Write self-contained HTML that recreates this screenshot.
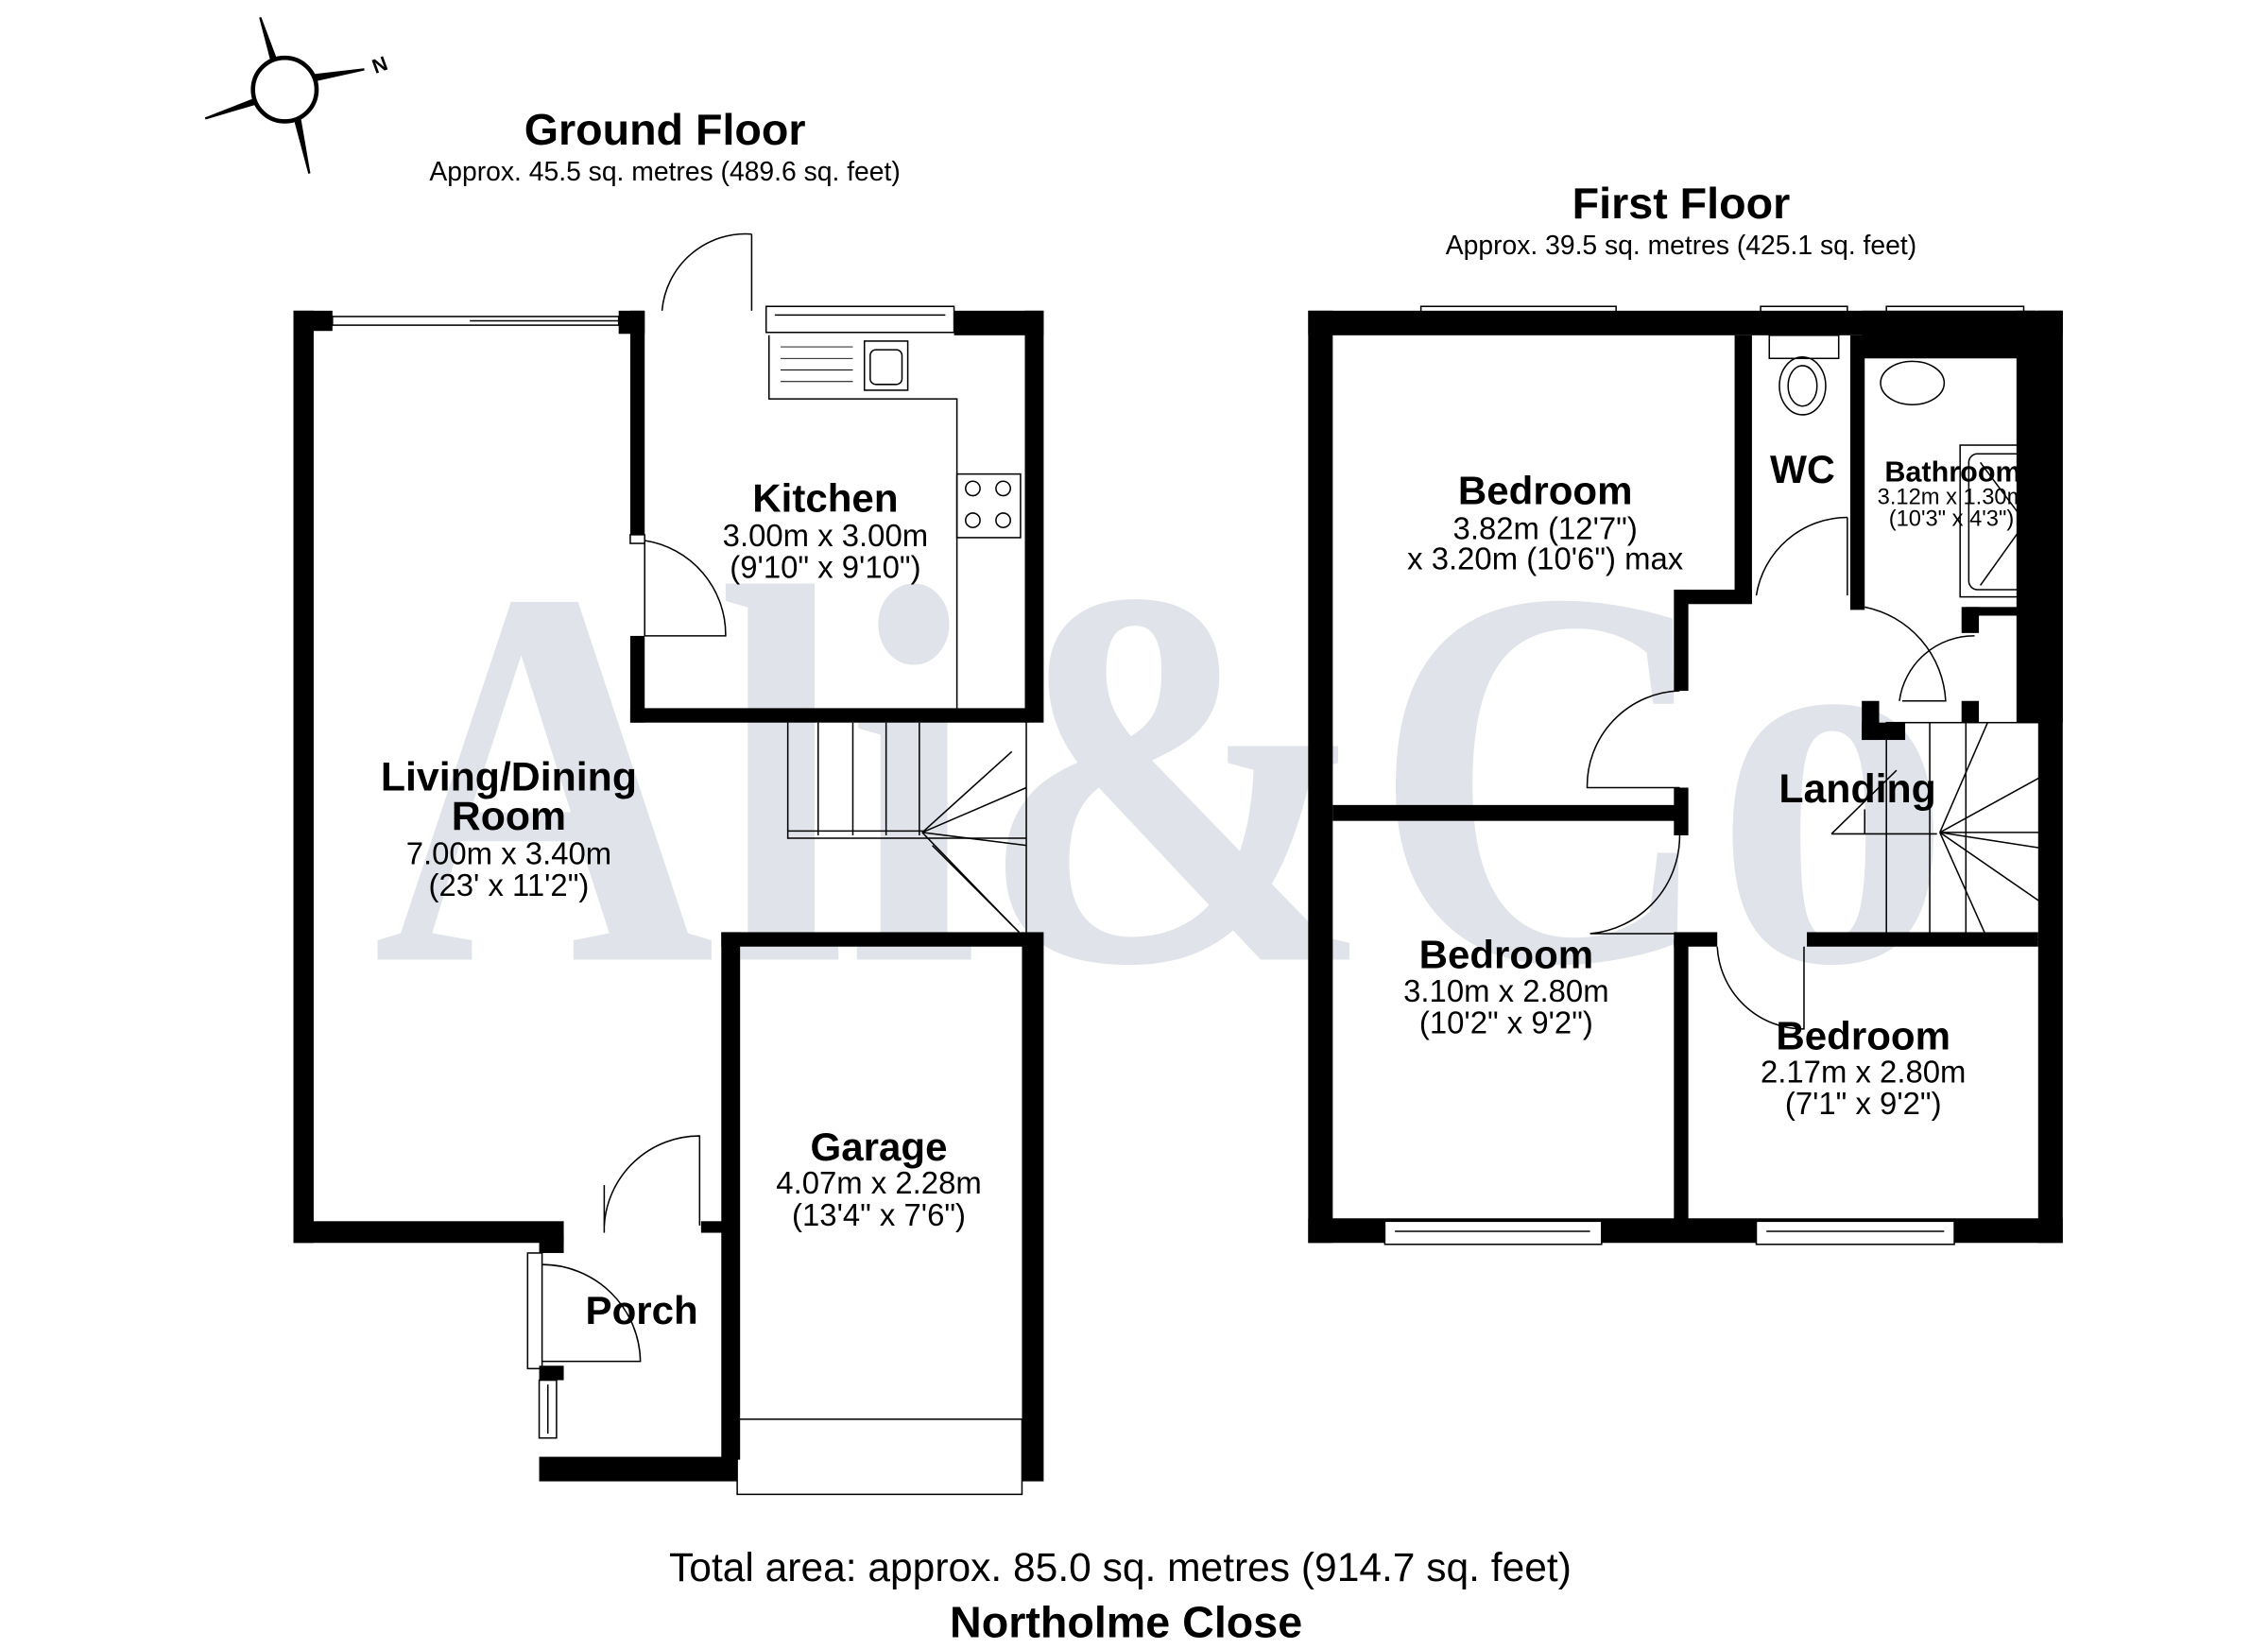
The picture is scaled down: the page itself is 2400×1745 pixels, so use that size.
<!DOCTYPE html>
<html><head><meta charset="utf-8"><style>
html,body{margin:0;padding:0;background:#fff;width:2400px;height:1745px;overflow:hidden}
svg{display:block}
text{font-family:"Liberation Sans",Arial,sans-serif;fill:#000}
.b{font-weight:bold}
.wm{font-family:"Liberation Serif","DejaVu Serif",serif;fill:#e0e3ea;font-weight:bold}
</style></head><body>
<svg width="2400" height="1745" viewBox="0 0 1569 1141" preserveAspectRatio="none" xmlns="http://www.w3.org/2000/svg">
<rect width="1569" height="1141" fill="#fff"/>
<text class="wm" x="258" y="664" font-size="375" textLength="1092" lengthAdjust="spacingAndGlyphs">Ali&amp;Co</text>

<g stroke="#000" stroke-width="1.5" fill="#fff">
<polygon points="198,60 180,12 192,58" fill="#000"/>
<polygon points="198,60 214,120 204,62" fill="#000"/>
<polygon points="198,60 142,82 196,66" fill="#000"/>
<polygon points="198,60 252,48 200,54" fill="#000"/>
<circle cx="197" cy="62" r="22" stroke-width="3"/>
</g>
<text x="258" y="50" font-size="14" class="b" transform="rotate(-20 262 46)">N</text>

<text x="460" y="100" font-size="30.5" class="b" text-anchor="middle">Ground Floor</text>
<text x="460" y="125" font-size="18.5" text-anchor="middle">Approx. 45.5 sq. metres (489.6 sq. feet)</text>
<text x="1163" y="151" font-size="30.5" class="b" text-anchor="middle">First Floor</text>
<text x="1163" y="176" font-size="18.5" text-anchor="middle">Approx. 39.5 sq. metres (425.1 sq. feet)</text>
<text x="775" y="1094" font-size="27.8" text-anchor="middle">Total area: approx. 85.0 sq. metres (914.7 sq. feet)</text>
<text x="779" y="1133" font-size="30.5" class="b" text-anchor="middle">Northolme Close</text>

<g fill="#000">
<rect x="203" y="215" width="14" height="645"/>
<rect x="203" y="215" width="27" height="14"/>
<rect x="428" y="215" width="18" height="16"/>
<rect x="436" y="215" width="10" height="155"/>
<rect x="436" y="440" width="10" height="60"/>
<rect x="436" y="490" width="276" height="10"/>
<rect x="660" y="215" width="62" height="17"/>
<rect x="709" y="215" width="13" height="285"/>
<rect x="203" y="845" width="187" height="15"/>
<rect x="373" y="855" width="17" height="12"/>
<rect x="485" y="845" width="15" height="8"/>
<rect x="499" y="645" width="13" height="365"/>
<rect x="499" y="645" width="213" height="10"/>
<rect x="707" y="645" width="15" height="380"/>
<rect x="373" y="1008" width="137" height="17"/>
<rect x="373" y="945" width="17" height="10"/>
</g>
<g fill="none" stroke="#000" stroke-width="1">
<rect x="230" y="219" width="198" height="6"/>
<line x1="325" y1="222" x2="428" y2="222"/>
<rect x="530" y="212" width="130" height="18"/>
<line x1="536" y1="218" x2="654" y2="218"/>
<line x1="520" y1="215" x2="520" y2="162"/>
<path d="M520,162 A58,58 0 0 0 458,215"/>
<path d="M532,232 V276 H662 V490"/>
<rect x="598" y="236" width="30" height="34"/><rect x="602" y="242" width="22" height="24" rx="4"/>
<g stroke-width="0.6"><line x1="540" y1="240" x2="590" y2="240"/><line x1="540" y1="248" x2="590" y2="248"/><line x1="540" y1="256" x2="590" y2="256"/><line x1="540" y1="264" x2="590" y2="264"/></g>
<rect x="662" y="328" width="44" height="44"/>
<circle cx="673" cy="338" r="5"/><circle cx="694" cy="338" r="5"/><circle cx="673" cy="360" r="5"/><circle cx="694" cy="360" r="5"/>
<rect x="436" y="370" width="10" height="6"/>
<line x1="446" y1="374" x2="446" y2="440"/>
<path d="M446,374 A66,66 0 0 1 502,440 H446"/>
<path d="M545,500 V580 H710"/>
<line x1="566" y1="500" x2="566" y2="578"/><line x1="590" y1="500" x2="590" y2="578"/><line x1="613" y1="500" x2="613" y2="578"/><line x1="636" y1="500" x2="636" y2="578"/>
<line x1="545" y1="575" x2="640" y2="575"/>
<line x1="710" y1="500" x2="710" y2="645"/>
<line x1="638" y1="576" x2="700" y2="520"/><line x1="638" y1="576" x2="710" y2="545"/><line x1="638" y1="576" x2="710" y2="585"/><line x1="638" y1="576" x2="700" y2="640"/>
<line x1="645" y1="585" x2="705" y2="645"/>
<rect x="510" y="982" width="197" height="52"/>
<line x1="418" y1="853" x2="418" y2="820"/>
<path d="M418,848 A66,66 0 0 1 484,786 V848"/>
<rect x="365" y="867" width="10" height="80"/>
<path d="M375,875 A68,68 0 0 1 443,942 H375"/>
<rect x="373" y="955" width="12" height="40"/>
<line x1="379" y1="958" x2="379" y2="992"/>
</g>
<text x="571" y="354" font-size="27.5" class="b" text-anchor="middle">Kitchen</text>
<text x="571" y="378" font-size="21.5" text-anchor="middle">3.00m x 3.00m</text>
<text x="571" y="400" font-size="21.5" text-anchor="middle">(9'10" x 9'10")</text>
<text x="352" y="547" font-size="28" class="b" text-anchor="middle">Living/Dining</text>
<text x="352" y="574" font-size="28" class="b" text-anchor="middle">Room</text>
<text x="352" y="598" font-size="21.5" text-anchor="middle">7.00m x 3.40m</text>
<text x="352" y="620" font-size="21.5" text-anchor="middle">(23' x 11'2")</text>
<text x="608" y="803" font-size="27.5" class="b" text-anchor="middle">Garage</text>
<text x="608" y="826" font-size="21.5" text-anchor="middle">4.07m x 2.28m</text>
<text x="608" y="848" font-size="21.5" text-anchor="middle">(13'4" x 7'6")</text>
<text x="444" y="916" font-size="27.5" class="b" text-anchor="middle">Porch</text>

<g fill="#000">
<rect x="905" y="215" width="17" height="645"/>
<rect x="905" y="215" width="522" height="17"/>
<rect x="1410" y="215" width="17" height="645"/>
<rect x="1395" y="215" width="32" height="285"/>
<rect x="1288" y="215" width="120" height="33"/>
<rect x="905" y="843" width="522" height="17"/>
<rect x="1200" y="232" width="12" height="185"/>
<rect x="1160" y="408" width="52" height="10"/>
<rect x="1158" y="408" width="10" height="70"/>
<rect x="922" y="557" width="243" height="11"/>
<rect x="1158" y="545" width="10" height="33"/>
<rect x="1158" y="650" width="10" height="195"/>
<rect x="1158" y="645" width="30" height="10"/>
<rect x="1250" y="645" width="160" height="10"/>
<rect x="1280" y="232" width="10" height="190"/>
<rect x="1360" y="420" width="50" height="6"/>
<rect x="1357" y="420" width="12" height="18"/>
<rect x="1357" y="485" width="12" height="15"/>
<rect x="1288" y="485" width="12" height="27"/>
<rect x="1288" y="500" width="30" height="12"/>
</g>
<g fill="none" stroke="#000" stroke-width="1">
<rect x="983" y="212" width="135" height="18"/><line x1="990" y1="218" x2="1112" y2="218"/>
<rect x="1218" y="212" width="60" height="18"/><line x1="1222" y1="218" x2="1274" y2="218"/>
<rect x="1305" y="212" width="95" height="18"/><line x1="1310" y1="218" x2="1395" y2="218"/>
<rect x="958" y="845" width="150" height="16" fill="#fff"/><line x1="965" y1="852" x2="1100" y2="852"/>
<rect x="1215" y="845" width="137" height="16" fill="#fff"/><line x1="1222" y1="852" x2="1345" y2="852"/>
<rect x="1224" y="232" width="48" height="16"/>
<ellipse cx="1247" cy="267" rx="16" ry="20"/><ellipse cx="1247" cy="267" rx="10" ry="14"/>
<ellipse cx="1323" cy="265" rx="22" ry="15"/>
<rect x="1356" y="308" width="52" height="105"/><rect x="1362" y="314" width="40" height="94" rx="6"/>
<line x1="1370" y1="320" x2="1400" y2="360"/><line x1="1370" y1="405" x2="1400" y2="363"/>
<line x1="1278" y1="412" x2="1278" y2="358"/>
<path d="M1278,358 A64,64 0 0 0 1215,412"/>
<path d="M1290,420 A70,70 0 0 1 1346,485 H1316"/>
<path d="M1366,440 A52,52 0 0 0 1314,485"/>
<path d="M1162,478 A66,66 0 0 0 1098,545 H1162"/>
<path d="M1162,578 A68,68 0 0 1 1100,646 H1162"/>
<path d="M1188,655 A60,60 0 0 0 1248,712 V655"/>
<rect x="1305" y="500" width="108" height="150"/>
<line x1="1335" y1="500" x2="1335" y2="650"/><line x1="1360" y1="500" x2="1360" y2="650"/>
<line x1="1267" y1="577" x2="1340" y2="577"/><line x1="1267" y1="577" x2="1312" y2="533"/>
<line x1="1290" y1="560" x2="1290" y2="577"/>
<line x1="1342" y1="576" x2="1375" y2="500"/><line x1="1342" y1="576" x2="1413" y2="537"/><line x1="1342" y1="576" x2="1413" y2="587"/><line x1="1342" y1="576" x2="1413" y2="625"/><line x1="1342" y1="576" x2="1375" y2="650"/>
<line x1="1342" y1="576" x2="1413" y2="576"/>
</g>
<text x="1069" y="349" font-size="27.5" class="b" text-anchor="middle">Bedroom</text>
<text x="1069" y="373" font-size="21.5" text-anchor="middle">3.82m (12'7")</text>
<text x="1069" y="394" font-size="21.5" text-anchor="middle">x 3.20m (10'6") max</text>
<text x="1247" y="334" font-size="27" class="b" text-anchor="middle">WC</text>
<text x="1351" y="333" font-size="20" class="b" text-anchor="middle">Bathroom</text>
<text x="1350" y="349" font-size="15.5" text-anchor="middle">3.12m x 1.30m</text>
<text x="1350" y="364" font-size="15.5" text-anchor="middle">(10'3" x 4'3")</text>
<text x="1285" y="555" font-size="28" class="b" text-anchor="middle">Landing</text>
<text x="1042" y="670" font-size="27.5" class="b" text-anchor="middle">Bedroom</text>
<text x="1042" y="693" font-size="21.5" text-anchor="middle">3.10m x 2.80m</text>
<text x="1042" y="715" font-size="21.5" text-anchor="middle">(10'2" x 9'2")</text>
<text x="1289" y="726" font-size="27.5" class="b" text-anchor="middle">Bedroom</text>
<text x="1289" y="749" font-size="21.5" text-anchor="middle">2.17m x 2.80m</text>
<text x="1289" y="771" font-size="21.5" text-anchor="middle">(7'1" x 9'2")</text>
</svg>
</body></html>
